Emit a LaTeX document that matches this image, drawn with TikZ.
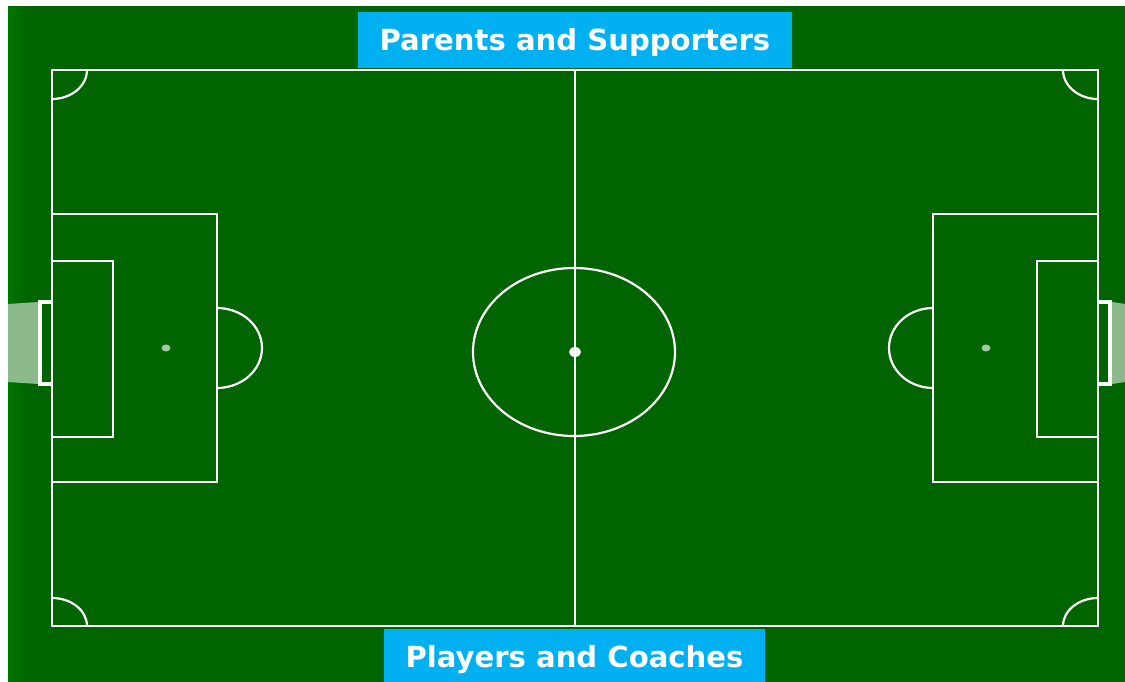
\documentclass[tikz,border=0pt]{standalone}
\usepackage{fontspec}
\setmainfont{DejaVu Sans}
\definecolor{pitchgreen}{RGB}{0,100,0}
\definecolor{edgegreen}{RGB}{0,116,0}
\definecolor{bannerblue}{RGB}{0,176,240}
\definecolor{netgreen}{RGB}{140,186,140}
\tikzset{
    pitchline/.style={draw=white,line width=2.2pt},
    postline/.style={draw=white,line width=4pt},
    banner/.style={fill=bannerblue,text=white,font=\bfseries\fontsize{29.1}{34}\selectfont,inner sep=0pt,anchor=center,text depth=0pt},
    penspot/.style={fill=netgreen!80!white}
}
\begin{document}
\begin{tikzpicture}[x=1pt,y=-1pt]
    \useasboundingbox (0,0) rectangle (1125,682);
    % Grass
    \fill[pitchgreen] (8,6) rectangle (1125,682);
    \foreach \i in {0,...,10}
        \fill[edgegreen!\the\numexpr100-\i*10\relax!pitchgreen] (8+2*\i,6) rectangle (10+2*\i,682);

    % Goal nets
    \fill[netgreen] (8,304) -- (38,302) -- (38,384) -- (8,382) -- cycle;
    \fill[netgreen] (1112,302) -- (1125,304) -- (1125,382) -- (1112,384) -- cycle;

    % Touch lines and halfway line
    \draw[pitchline] (52,70) rectangle (1098,626);
    \draw[pitchline] (575,70) -- (575,626);

    % Left penalty area
    \draw[pitchline] (52,214) rectangle (217,482);
    \draw[pitchline] (52,261) rectangle (113,437);
    \draw[pitchline] (217,308) arc[start angle=-90,end angle=90,x radius=45,y radius=40];
    \fill[penspot] (166,348) ellipse[x radius=4.5,y radius=3.5];

    % Right penalty area
    \draw[pitchline] (1098,214) rectangle (933,482);
    \draw[pitchline] (1098,261) rectangle (1037,437);
    \draw[pitchline] (933,308) arc[start angle=-90,end angle=-270,x radius=44,y radius=40];
    \fill[penspot] (986,348) ellipse[x radius=4.5,y radius=3.5];

    % Centre circle
    \draw[pitchline] (574,352) ellipse[x radius=101,y radius=84];
    \fill[white] (575,352) ellipse[x radius=6,y radius=5];

    % Corner arcs
    \draw[pitchline] (87,70) arc[start angle=0,end angle=90,x radius=35,y radius=29];
    \draw[pitchline] (1063,70) arc[start angle=180,end angle=90,x radius=35,y radius=29];
    \draw[pitchline] (52,598) arc[start angle=-90,end angle=0,x radius=35,y radius=28];
    \draw[pitchline] (1098,598) arc[start angle=-90,end angle=-180,x radius=35,y radius=28];

    % Goals
    \draw[postline] (52,301.5) -- (40,301.5) -- (40,384) -- (52,384);
    \draw[postline] (1098,301.5) -- (1110,301.5) -- (1110,384) -- (1098,384);

    % Stands
    \node[banner,minimum width=434pt,minimum height=56pt,text height=22pt] (parents) at (575,40) {Parents and Supporters};
    \node[banner,minimum width=381pt,minimum height=53pt,text height=24pt] (players) at (574.5,655.5) {Players and Coaches};
\end{tikzpicture}
\end{document}
